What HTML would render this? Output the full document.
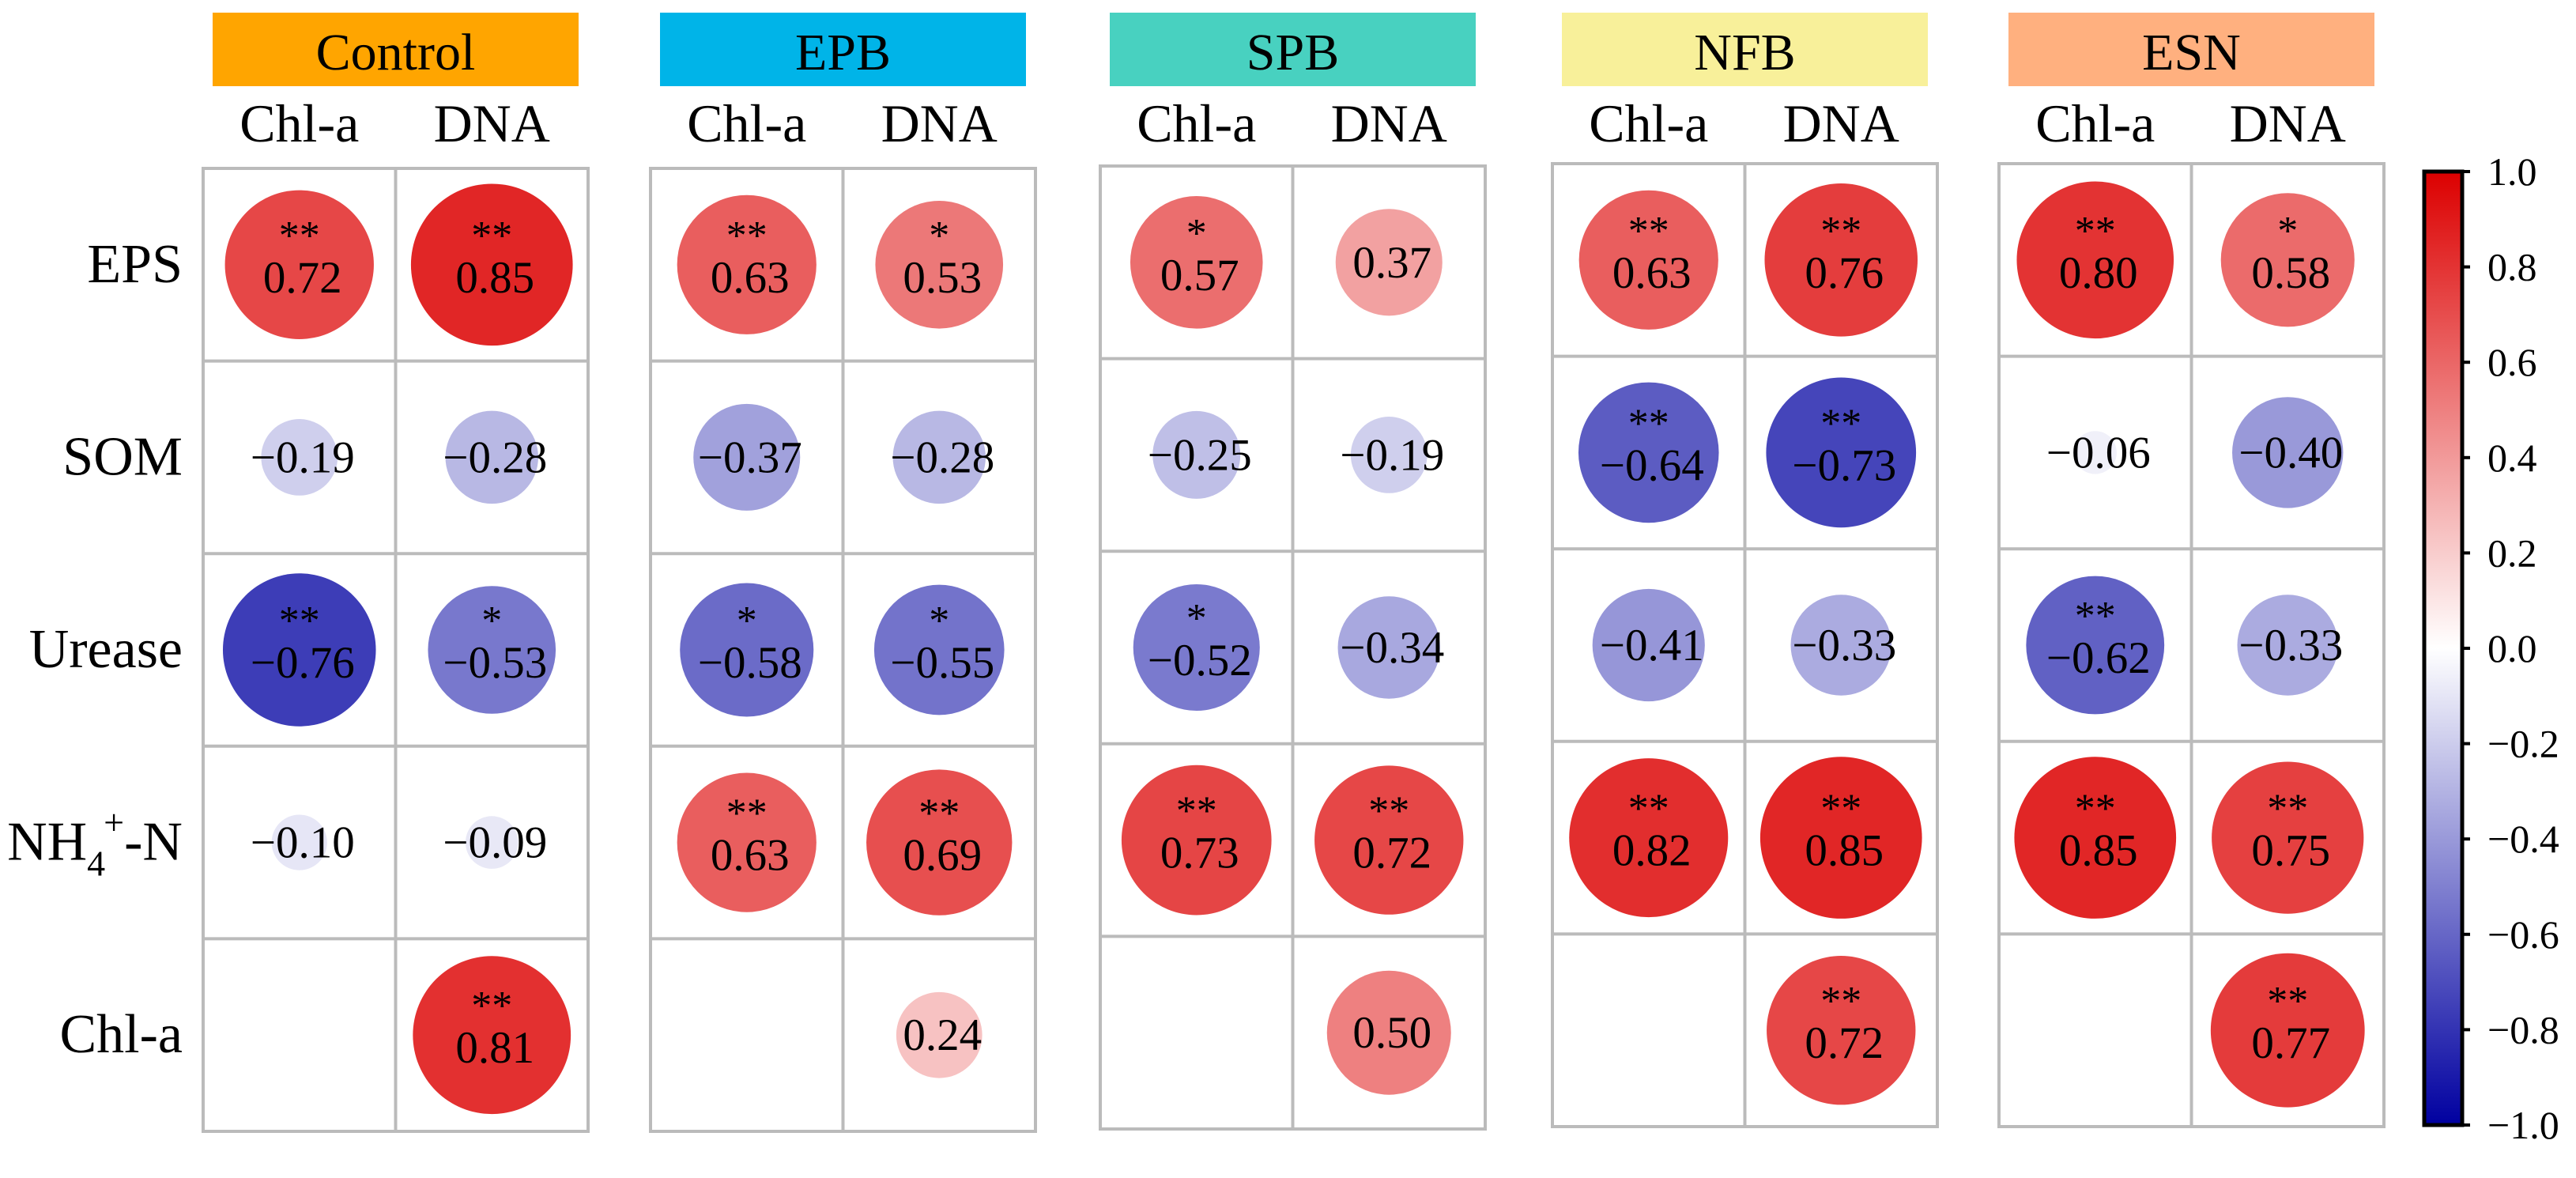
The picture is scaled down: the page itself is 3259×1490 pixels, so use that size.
<!DOCTYPE html>
<html><head><meta charset="utf-8"><title>Correlation panels</title>
<style>
html,body{margin:0;padding:0;background:#fff;}
svg{display:block;}
svg text{font-family:"Liberation Serif","Times New Roman","DejaVu Serif",serif;}
</style></head>
<body>
<svg id="chart" width="3259" height="1490" viewBox="0 0 3259 1490" xmlns="http://www.w3.org/2000/svg" font-family="'Liberation Serif', 'Times New Roman', serif"></svg>
<script>
const groups = ["Control","EPB","SPB","NFB","ESN"];
const groupColors = ["#FFA500","#00B4E8","#48D1C0","#F8F09A","#FFB07F"];
const rowLabels = ["EPS","SOM","Urease","NH4+-N","Chl-a"];
const colLabels = ["Chl-a","DNA"];
// values per group: [chl-a column, DNA column], rows EPS,SOM,Urease,NH4,Chl-a (null = empty)
const chlValues = [
  [0.72,-0.19,-0.76,-0.10,null],
  [0.63,-0.37,-0.58,0.63,null],
  [0.57,-0.25,-0.52,0.73,null],
  [0.63,-0.64,-0.41,0.82,null],
  [0.80,-0.06,-0.62,0.85,null]
];
const dnaValues = [
  [0.85,-0.28,-0.53,-0.09,0.81],
  [0.53,-0.28,-0.55,0.69,0.24],
  [0.37,-0.19,-0.34,0.72,0.50],
  [0.76,-0.73,-0.33,0.85,0.72],
  [0.58,-0.40,-0.33,0.75,0.77]
];
const chlStars = [
  ["**","","**","",""],
  ["**","","*","**",""],
  ["*","","*","**",""],
  ["**","**","","**",""],
  ["**","","**","**",""]
];
const dnaStars = [
  ["**","","*","","**"],
  ["*","","*","**",""],
  ["","","","**",""],
  ["**","**","","**","**"],
  ["*","","","**","**"]
];
const cbTicks = [1.0,0.8,0.6,0.4,0.2,0.0,-0.2,-0.4,-0.6,-0.8,-1.0];

const NS="http://www.w3.org/2000/svg";
const FONT="'Liberation Serif', 'Times New Roman', 'DejaVu Serif', serif";
const svg=document.getElementById('chart');
function mk(tag,attrs,parent){const e=document.createElementNS(NS,tag);for(const k in attrs)e.setAttribute(k,attrs[k]);if(tag==='text')e.setAttribute('font-family',FONT);(parent||svg).appendChild(e);return e;}

const panelLeft=[257,823,1392,1964,2529];
const panelTop=[213,213,210,207,207];
const cellW=243.5, cellH=243.6;
function color(v){
  const t=Math.min(1,Math.abs(v));
  let r,g,b;
  if(v>=0){r=255+(220-255)*t;g=255*(1-t);b=255*(1-t);}
  else{r=255*(1-t);g=255*(1-t);b=255+(160-255)*t;}
  return `rgb(${Math.round(r)},${Math.round(g)},${Math.round(b)})`;
}
function radius(v){return 111*Math.sqrt(Math.abs(v));}
function fmt(v){const s=Math.abs(v).toFixed(2);return (v<0?"\u2212":"")+s;}

rowLabels.forEach((lab,i)=>{
  const cy=213+cellH*(i+0.5);
  const t=mk('text',{x:231,y:cy+22,'text-anchor':'end','font-size':70,fill:'#000'});
  
  
  if(lab==="NH4+-N"){
    t.appendChild(document.createTextNode("NH"));
    const s1=mk('tspan',{'font-size':46,dy:20},t);s1.textContent="4";
    const s2=mk('tspan',{'font-size':46,dy:-52,dx:-2},t);s2.textContent="+";
    const s3=mk('tspan',{dy:32},t);s3.textContent="-N";
  } else t.textContent=lab;
});

groups.forEach((g,gi)=>{
  const L=panelLeft[gi], T=panelTop[gi];
  const grp=mk('g',{});
  
  
  const hdr=mk('rect',{x:L+12,y:16,width:2*cellW-24,height:93,fill:groupColors[gi]},grp);
  
  
  const ht=mk('text',{x:L+cellW,y:88,'text-anchor':'middle','font-size':66,fill:'#000'},grp);
  
  
  ht.textContent=g;
  colLabels.forEach((c,ci)=>{
    const ct=mk('text',{x:L+cellW*(ci+0.5),y:179,'text-anchor':'middle','font-size':68,fill:'#000'},grp);
    
    
    ct.textContent=c;
  });
  [chlValues[gi],dnaValues[gi]].forEach((col,ci)=>{
    const stars=ci===0?chlStars[gi]:dnaStars[gi];
    col.forEach((v,ri)=>{
      if(v===null) return;
      const cx=L+cellW*(ci+0.5), cy=T+cellH*(ri+0.5);
      const c=mk('circle',{cx:cx,cy:cy,r:radius(v),fill:color(v)},grp);
      
      
      const st=stars[ri];
      const vt=mk('text',{x:cx+4,y:st?cy+35:cy+19,'text-anchor':'middle','font-size':57,fill:'#000'},grp);
      
      
      vt.textContent=fmt(v);
      if(st){
        const s=mk('text',{x:cx,y:cy-20,'text-anchor':'middle','font-size':52,fill:'#000'},grp);
        
        
        s.textContent=st;
      }
    });
  });
  const gridG=mk('g',{stroke:'#BBBBBB','stroke-width':4,fill:'none'},grp);
  
  
  mk('rect',{x:L,y:T,width:2*cellW,height:5*cellH},gridG);
  mk('line',{x1:L+cellW,y1:T,x2:L+cellW,y2:T+5*cellH},gridG);
  for(let r=1;r<5;r++) mk('line',{x1:L,y1:T+r*cellH,x2:L+2*cellW,y2:T+r*cellH},gridG);
});

const cbX=3067, cbW=48, cbTop=217, cbBot=1423;
function cbY(v){return cbTop+(1-v)/2*(cbBot-cbTop);}
const defs=mk('defs',{});
const lg=mk('linearGradient',{id:'cbg',x1:0,y1:0,x2:0,y2:1},defs);
[1,0.5,0,-0.5,-1].forEach((v)=>{mk('stop',{offset:((1-v)/2*100)+'%','stop-color':color(v)},lg);});
const cb=mk('rect',{x:cbX,y:cbTop,width:cbW,height:cbBot-cbTop,fill:'url(#cbg)',stroke:'#000','stroke-width':5});


cbTicks.forEach(v=>{
  const y=cbY(v);
  const tk=mk('line',{x1:cbX+cbW,y1:y,x2:cbX+cbW+10,y2:y,stroke:'#000','stroke-width':4});
  
  
  const tl=mk('text',{x:3147,y:y+17,'font-size':50,fill:'#000'});
  
  
  tl.textContent=(v<0?"\u2212":"")+Math.abs(v).toFixed(1);
});
</script>
</body></html>
